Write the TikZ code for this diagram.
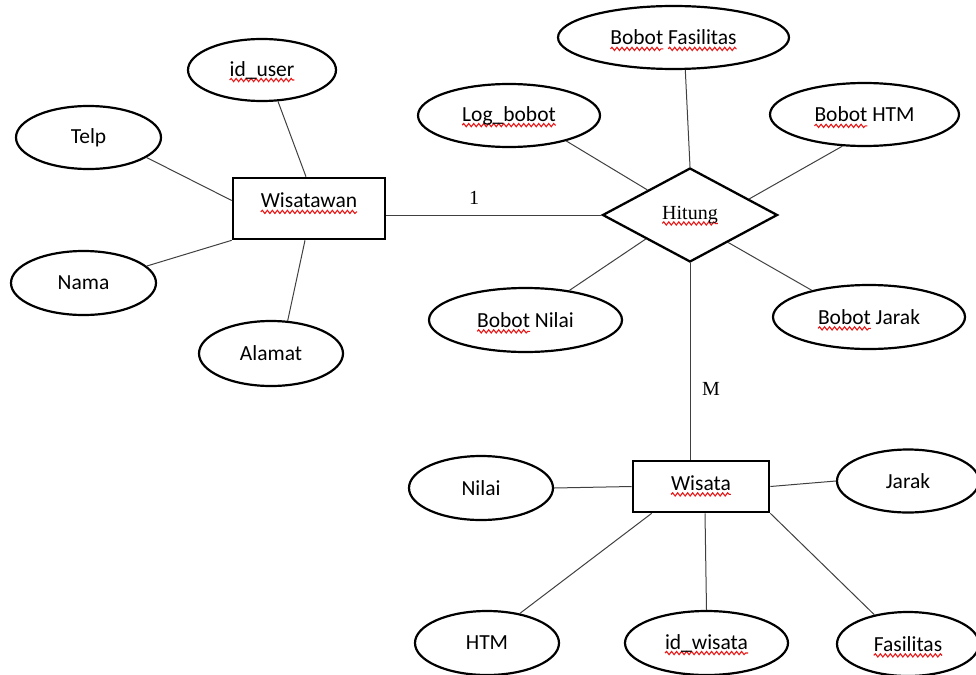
\documentclass[tikz,border=0pt]{standalone}
\usepackage{fontspec}
\setmainfont{Carlito}
\newfontfamily\timesfont{Liberation Serif}
\usetikzlibrary{shapes.geometric,calc,decorations.pathmorphing}
\definecolor{spellred}{RGB}{232,24,24}
\definecolor{linegray}{RGB}{64,64,64}
% red wavy underline under a word
\newsavebox\sqbox
\newcommand\sq[1]{\sbox\sqbox{#1}\leavevmode\rlap{\tikz[baseline=0pt]{\useasboundingbox (0pt,0pt);
  \draw[spellred, line width=1.1pt, decorate,
        decoration={snake, segment length=5pt, amplitude=1.6pt}]
        (0pt,-4pt) -- (\wd\sqbox,-4pt);}}\usebox\sqbox}

\begin{document}
\begin{tikzpicture}[x=1pt,y=-1pt,
  attr/.style={ellipse, draw, line width=2.2pt, inner sep=0pt,
               font=\fontsize{21.5}{25}\selectfont},
  ent/.style={rectangle, draw, line width=2.6pt, inner sep=0pt,
              font=\fontsize{21.5}{25}\selectfont},
  rel/.style={diamond, draw, line width=2.3pt, inner sep=0pt, shape aspect=1.84,
              font=\timesfont\fontsize{20}{24}\selectfont},
  link/.style={draw=linegray, line width=1pt},
  card/.style={inner sep=0pt, font=\timesfont\fontsize{20}{24}\selectfont}]
\useasboundingbox (0,0) rectangle (976,674);
\clip (0,0) rectangle (976,674);

% entities and relationship
\node[ent, minimum width=152pt, minimum height=61pt, text depth=16pt] (wst) at (309,208.5) {\sq{Wisatawan}};
\node[ent, minimum width=136pt, minimum height=51pt, text depth=7pt] (wis) at (701,486.5) {\sq{Wisata}};
\node[rel, minimum width=175pt, minimum height=94pt] (hit) at (690,215) {\sq{Hitung}};

% attributes of Wisatawan
\node[attr, minimum width=148pt, minimum height=62pt] (iduser) at (262,70) {\sq{id\_user}};
\node[attr, minimum width=145pt, minimum height=63pt] (telp) at (88.5,137.5) {Telp};
\node[attr, minimum width=145pt, minimum height=64pt] (nama) at (83.5,283) {Nama};
\node[attr, minimum width=144pt, minimum height=65pt] (alamat) at (271,353.5) {Alamat};

% attributes of Hitung
\node[attr, minimum width=231pt, minimum height=63pt] (bfas) at (673.5,37.5) {\sq{Bobot} \sq{Fasilitas}};
\node[attr, minimum width=182pt, minimum height=63pt] (logb) at (509,115.5) {\sq{Log\_bobot}};
\node[attr, minimum width=189pt, minimum height=63pt] (bhtm) at (864.5,114.5) {\sq{Bobot} HTM};
\node[attr, minimum width=193pt, minimum height=64pt] (bnil) at (525.5,320) {\sq{Bobot} Nilai};
\node[attr, minimum width=192pt, minimum height=64pt] (bjar) at (869,317) {\sq{Bobot} Jarak};

% attributes of Wisata
\node[attr, minimum width=144pt, minimum height=64pt] (nilai) at (481,488) {Nilai};
\node[attr, minimum width=142pt, minimum height=63pt] (jarak) at (908,481) {Jarak};
\node[attr, minimum width=144pt, minimum height=64pt] (htm) at (487,643) {HTM};
\node[attr, minimum width=163pt, minimum height=64pt] (idw) at (706.5,643) {\sq{id\_wisata}};
\node[attr, minimum width=142pt, minimum height=64pt] (fas) at (908,644) {\sq{Fasilitas}};

% cardinalities
\node[card] (one) at (474,198) {1};
\node[card] (many) at (711,389) {M};

% connectors
\draw[link] (iduser.-63) -- ($(wst.north)+(-3,0)$);
\draw[link] (telp.-19) -- ($(wst.west)+(0,-8)$);
\draw[link] (nama.15) -- (wst.south west);
\draw[link] (alamat.63) -- ($(wst.south)+(-4,0)$);
\draw[link] (wst.east |- hit.west) -- (hit.west);

\draw[link] (bfas.-70) -- (hit.north);
\draw[link] (logb.-24) -- ($(hit.west)!0.52!(hit.north)$);
\draw[link] (bhtm.-125) -- ($(hit.north)!0.667!(hit.east)$);
\draw[link] (bnil.34) -- ($(hit.west)!0.5!(hit.south)$);
\draw[link] (bjar.155) -- ($(hit.south)!0.43!(hit.east)$);
\draw[link] (hit.south) -- (hit.south |- wis.north);

\draw[link] (nilai.east) -- (wis.west);
\draw[link] (jarak.west) -- (wis.east);
\draw[link] (htm.42) -- ($(wis.south west)+(20,0)$);
\draw[link] (idw.north) -- ($(wis.south)+(4,0)$);
\draw[link] (fas.139) -- (wis.south east);
\end{tikzpicture}
\end{document}
